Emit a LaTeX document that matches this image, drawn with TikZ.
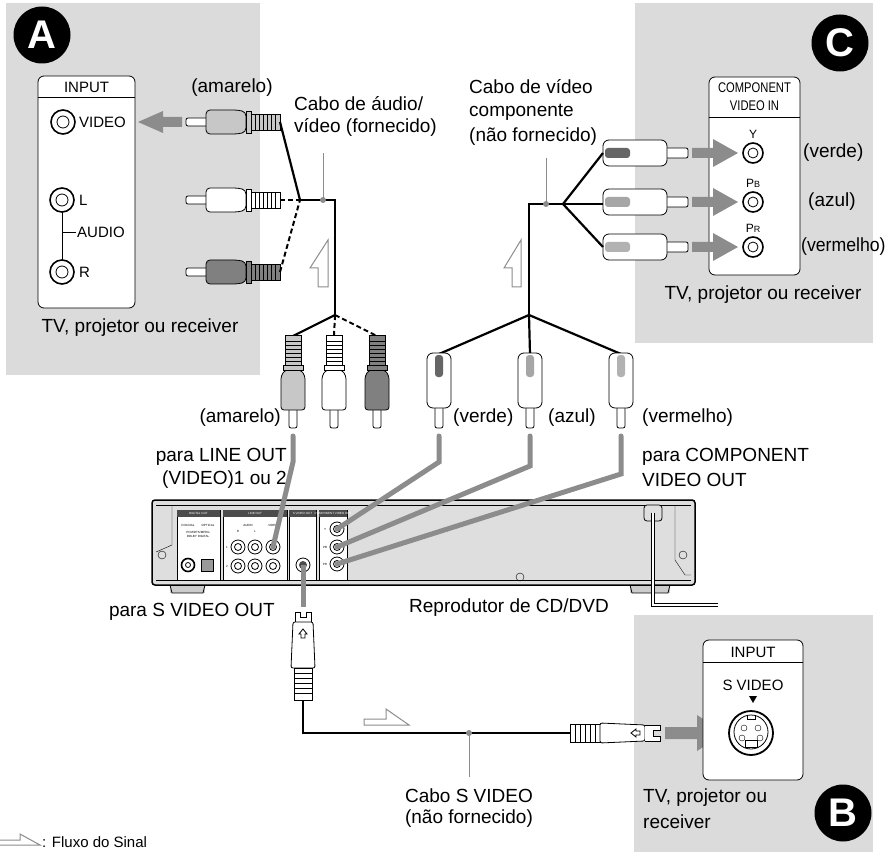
\documentclass[tikz,border=0pt]{standalone}
\usepackage{fontspec}
\setmainfont{Liberation Sans}
\begin{document}
\begin{tikzpicture}[x=1pt,y=-1pt,
  panel/.style={fill=black!14,draw=none},
  box/.style={draw,thick,fill=white,rounded corners=6pt},
  lbl/.style={font=\fontsize{19}{21}\selectfont,inner sep=0pt},
  small/.style={font=\fontsize{15}{16}\selectfont,inner sep=0pt},
  tiny/.style={font=\fontsize{3}{3}\selectfont,inner sep=0pt},
  cab/.style={line width=2.2pt,black},
  dcab/.style={line width=2pt,black,dash pattern=on 5pt off 3pt},
  gcab/.style={line width=5pt,black!45},
  garrow/.style={fill=black!45,draw=none},
  hollow/.style={draw=black!45,fill=white,line width=1pt},
  jack/.style={draw,line width=1.6pt,fill=white},
  badge/.style={circle,fill=black,text=white,minimum size=57pt,inner sep=0pt,font=\fontsize{40}{40}\selectfont\bfseries}]
\useasboundingbox (0,0) rectangle (892,853);
% ---------- panels
\fill[panel] (6,3) rectangle (260,375);
\fill[panel] (635,3) rectangle (873,343);
\fill[panel] (634,615) rectangle (873,852);
\node[badge] (bA) at (42,35) {A};
\node[badge] (bC) at (840,43) {C};
\node[badge] (bB) at (843,813) {B};
% ---------- macros
\newcommand{\rcaH}[3]{% pin tip at (#1,#2), plug extends to +x ; #3 colour
 \begin{scope}[shift={(#1,#2)}]
  \draw[thick,fill=white,rounded corners=2pt] (0,-4) rectangle (22,4);
  \draw[thick,fill=#3,rounded corners=4pt] (20,-12) -- (52,-12) -- (60,-10) -- (60,10) -- (52,12) -- (20,12) -- cycle;
  \draw[thick,fill=#3] (60,-11) rectangle (65,11);
  \draw[thick,fill=#3] (65,-8) rectangle (94,8);
  \foreach \k in {69,73,...,91} \draw (\k,-8) -- (\k,8);
 \end{scope}}
\newcommand{\rcaV}[3]{% pin tip at (#1,#2), plug extends upward
 \begin{scope}[shift={(#1,#2)},x={(0pt,1pt)},y={(1pt,0pt)}]
  \draw[thick,fill=white,rounded corners=2pt] (0,-4) rectangle (20,4);
  \draw[thick,fill=#3,rounded corners=3pt] (18,-12) -- (52,-12) -- (58,-8) -- (58,8) -- (52,12) -- (18,12) -- cycle;
  \draw[thick,fill=#3] (58,-10) rectangle (63,10);
  \draw[thick,fill=#3] (63,-8) rectangle (93,8);
  \foreach \k in {67,71,...,89} \draw (\k,-8) -- (\k,8);
 \end{scope}}
\newcommand{\rcaC}[4]{% component plug, pin tip at (#1,#2) on the right, body length #4 to the left
 \begin{scope}[shift={(#1,#2)},x={(-1pt,0pt)}]
  \draw[thick,fill=white,rounded corners=2pt] (0,-5) rectangle (23,5);
  \draw[thick,fill=white,rounded corners=6pt] (21,-13) rectangle (21+#4,13);
  \fill[#3,rounded corners=3pt] (21+#4-27,-5) rectangle (21+#4-2,5);
 \end{scope}}
\newcommand{\rcaCV}[4]{%
 \begin{scope}[shift={(#1,#2)},x={(0pt,1pt)},y={(1pt,0pt)}]
  \draw[thick,fill=white,rounded corners=2pt] (0,-4) rectangle (22,4);
  \draw[thick,fill=white,rounded corners=6pt] (20,-12) rectangle (20+#4,12);
  \fill[#3,rounded corners=3pt] (20+#4-24,-4) rectangle (20+#4-2,4);
 \end{scope}}
% ---------- panel A
\draw[box] (38,76) rectangle (135,308);
\draw[thick] (38,97) -- (135,97);
\node[small] (inA) at (86.5,87) {INPUT};
\node[jack,circle,minimum size=24pt] (jV) at (63,122) {};
\draw[thick] (63,122) circle (6);
\node[small,anchor=west] (tV) at (79,122) {VIDEO};
\draw[thick] (62,200) -- (62,272);
\draw[thick] (62,232) -- (76,232);
\node[jack,circle,minimum size=24pt] (jL) at (62,200) {};
\draw[thick] (62,200) circle (6);
\node[jack,circle,minimum size=24pt] (jR) at (62,272) {};
\draw[thick] (62,272) circle (6);
\node[small,anchor=west] (tL) at (79,200) {L};
\node[small,anchor=west] (tAu) at (77,232) {AUDIO};
\node[small,anchor=west] (tR) at (79,272) {R};
\node[lbl] (tvA) at (140,328) {TV, projetor ou receiver};
\fill[garrow] (182,117) -- (163,117) -- (163,111) -- (138,122) -- (163,133) -- (163,127) -- (182,127) -- cycle;
\rcaH{186}{122}{black!22}
\rcaH{186}{200}{white}
\rcaH{186}{272}{black!50}
\coordinate (jA) at (300,200);
\coordinate (jA2) at (335,200);
\coordinate (fA) at (335,315);
\draw[cab] (280,122) -- (jA);
\draw[dcab] (280,200) -- (jA);
\draw[dcab] (280,272) -- (jA);
\draw[cab] (jA) -- (jA2) -- (fA);
\fill[black!45] (323,200) circle (3);
\draw[black!45,line width=1pt] (323,200) -- (323,153);
\node[lbl] (amA) at (232,88) {(amarelo)};
\node[lbl,anchor=west] (cabA1) at (294,104) {Cabo de áudio/};
\node[lbl,anchor=west] (cabA2) at (294,127) {vídeo (fornecido)};
\draw[hollow] (318,287) -- (328,287) -- (328,240) -- (310,268) -- (318,268) -- cycle;
% bottom audio plugs
\draw[cab] (fA) -- (293,336);
\draw[dcab] (fA) -- (334,336);
\draw[dcab] (fA) -- (377,336);
\rcaV{293}{428}{black!22}
\rcaV{334}{428}{white}
\rcaV{377}{428}{black!50}
% ---------- panel C
\draw[box] (709,77) rectangle (800,275);
\draw[thick] (709,117) -- (800,117);
\node[font=\fontsize{14}{14}\selectfont,inner sep=0pt,xscale=0.8] (cvi1) at (754.5,88) {COMPONENT};
\node[font=\fontsize{14}{14}\selectfont,inner sep=0pt,xscale=0.8] (cvi2) at (754.5,106) {VIDEO IN};
\foreach \yy/\nm/\lab/\col in {153/Y/Y/(verde),202/B/P{\fontsize{9}{9}\selectfont B}/(azul),247/R/P{\fontsize{9}{9}\selectfont R}/(vermelho)}{
  \node[jack,circle,minimum size=20pt] (jc\nm) at (753,\yy) {};
  \draw[thick] (753,\yy) circle (5);
  \node[font=\fontsize{12}{12}\selectfont,inner sep=0pt] (lc\nm) at (753,\yy-19) {\lab};
  \fill[garrow] (692,\yy-5) -- (713,\yy-5) -- (713,\yy-14) -- (738,\yy) -- (713,\yy+14) -- (713,\yy+5) -- (692,\yy+5) -- cycle;
}
\node[lbl,anchor=west] (ccY) at (803,153) {(verde)};
\node[lbl,anchor=west] (ccB) at (808,202) {(azul)};
\node[lbl,anchor=west,xscale=0.93] (ccR) at (801,247) {(vermelho)};
\node[lbl] (tvC) at (763,295) {TV, projetor ou receiver};
\rcaC{688}{153}{black!60}{64}
\rcaC{688}{202}{black!35}{64}
\rcaC{688}{247}{black!30}{64}
\coordinate (jC) at (563,204);
\coordinate (jC2) at (529,204);
\coordinate (fC) at (529,315);
\draw[cab] (603,153) -- (jC) -- (603,247);
\draw[cab] (603,204) -- (jC) -- (jC2) -- (fC);
\fill[black!45] (546,204) circle (3);
\draw[black!45,line width=1pt] (546,204) -- (546,158);
\node[lbl,anchor=west] (cabC1) at (469,87) {Cabo de vídeo};
\node[lbl,anchor=west] (cabC2) at (469,112) {componente};
\node[lbl,anchor=west] (cabC3) at (469,137) {(não fornecido)};
\draw[hollow] (512,287) -- (521,287) -- (521,240) -- (504,268) -- (512,268) -- cycle;
\draw[cab] (fC) -- (439,354);
\draw[cab] (fC) -- (530,354);
\draw[cab] (fC) -- (621,354);
\rcaCV{439}{428}{black!60}{55}
\rcaCV{530}{428}{black!35}{55}
\rcaCV{621}{428}{black!30}{55}
% labels under plugs
\node[lbl,anchor=east] (am2) at (281,418) {(amarelo)};
\node[lbl,anchor=west] (ve2) at (453,418) {(verde)};
\node[lbl,anchor=west] (az2) at (548,418) {(azul)};
\node[lbl,anchor=west] (vm2) at (642,418) {(vermelho)};
\node[lbl,anchor=east] (lo1) at (287,457) {para LINE OUT};
\node[lbl,anchor=east] (lo2) at (287,480) {(VIDEO)1 ou 2};
\node[lbl,anchor=west] (co1) at (642,457) {para  COMPONENT};
\node[lbl,anchor=west] (co2) at (642,480) {VIDEO OUT};
% ---------- player
\fill[black!20] (170,585) rectangle (205,593);
\fill[black!20] (630,585) rectangle (670,593);
\draw[thick] (170,585) -- (172,593) -- (203,593) -- (205,585);
\draw[thick] (630,585) -- (632,593) -- (668,593) -- (670,585);
\draw[line width=1.5pt,fill=black!13,rounded corners=3pt] (152,500) rectangle (695,585);
\draw[thick] (156,505) -- (691,505);
\draw[thick] (156,580) -- (691,580);
\draw (172,505) -- (172,545) -- (156,552);
\draw (162,555) circle (4);
\draw (675,505) -- (675,560) -- (685,575) -- (691,575);
\draw (683,555) circle (4);
\draw (520,577) circle (4);
% sub panels
\foreach \xa/\xb/\tt in {177/220/DIGITAL OUT,223/287/LINE OUT,289/316/S VIDEO OUT,319/347/COMPONENT VIDEO OUT}{
  \draw[fill=white] (\xa,510) rectangle (\xb,580);
  \fill[black!70] (\xa,510) rectangle (\xb,517);
  \node[tiny,text=white] at ({(\xa+\xb)/2},513.5) {\tt};
}
\node[tiny] at (188,525) {COAXIAL};
\node[tiny] at (208,525) {OPTICAL};
\node[tiny] at (198,532) {PCM/DTS/MPEG};
\node[tiny] at (198,536) {DOLBY DIGITAL};
\node[jack,circle,minimum size=13pt] (coax) at (188,565) {};
\draw[thick] (188,565) circle (2.5);
\draw[thick,fill=black!40] (201,559) rectangle (213,571);
\node[tiny] at (248,525) {AUDIO};
\node[tiny] at (238,531) {R};
\node[tiny] at (255,531) {L};
\node[tiny] at (273,525) {VIDEO};
\node[tiny] at (227,547) {1};
\node[tiny] at (227,566) {2};
\foreach \xx in {238,255,273}{\foreach \yy in {547,566}{
  \draw[thick,fill=white] (\xx,\yy) circle (7);
  \draw[thick] (\xx,\yy) circle (3.5);}}
\draw[thick,fill=white] (303,565) circle (7);
\fill[black!70] (303,565) circle (4);
\foreach \yy/\tt in {529/Y,547/PB,564/PR}{
  \draw[thick,fill=white] (337,\yy) circle (7);
  \draw[thick] (337,\yy) circle (3.5);
  \node[tiny] at (325,\yy) {\tt};}
% power cord
\draw[thick,rounded corners=3pt,fill=black!13] (644,505) rectangle (662,521);
\draw[thick,double=white,double distance=2pt] (653,513) -- (653,605) -- (718,605);
% gray cables to player
\draw[gcab,line cap=round] (293,436) -- (293,462) -- (273,547);
\draw[gcab,line cap=round] (439,436) -- (439,462) -- (337,529);
\draw[gcab,line cap=round] (530,436) -- (530,466) -- (337,547);
\draw[gcab,line cap=round] (621,436) -- (621,474) -- (337,564);
\draw[gcab] (303,565) -- (303,607);
\node[lbl,anchor=west] (rep) at (409,608) {Reprodutor de CD/DVD};
\node[lbl,anchor=east] (svo) at (275,612) {para S VIDEO OUT};
% ---------- S video cable
\draw[thick,fill=white] (295,622) -- (295,612) -- (300,612) -- (300,617) -- (306,617) -- (306,612) -- (311,612) -- (311,622);
\draw[thick,fill=white,rounded corners=2pt] (293,622) -- (313,622) -- (315,668) -- (291,668) -- cycle;
\draw[thick,fill=white] (303,629) -- (299,634) -- (301,634) -- (301,638) -- (305,638) -- (305,634) -- (307,634) -- cycle;
\draw[thick,fill=white] (294,668) rectangle (312,700);
\foreach \k in {673,678,...,695} \draw[thick] (294,\k) -- (312,\k);
\draw[cab] (303,700) -- (303,733) -- (570,733);
\fill[black!45] (469,733) circle (3);
\draw[black!45,line width=1pt] (469,733) -- (469,777);
\node[lbl] (cabS1) at (469,796) {Cabo S VIDEO};
\node[lbl] (cabS2) at (469,819) {(não fornecido)};
\draw[hollow] (364,725) -- (409,725) -- (386,709) -- (386,719) -- (364,719) -- cycle;
% horizontal S plug
\draw[thick,fill=white] (570,724) rectangle (600,742);
\foreach \k in {575,580,...,596} \draw[thick] (\k,724) -- (\k,742);
\draw[thick,fill=white,rounded corners=2pt] (600,723) -- (645,725) -- (645,741) -- (600,743) -- cycle;
\draw[thick,fill=white] (631,733) -- (636,729) -- (636,731) -- (640,731) -- (640,735) -- (636,735) -- (636,737) -- cycle;
\draw[thick,fill=white] (645,725) -- (660,725) -- (660,730) -- (653,730) -- (653,736) -- (660,736) -- (660,741) -- (645,741);
\fill[garrow] (665,727) -- (697,727) -- (697,715) -- (725,733) -- (697,751) -- (697,739) -- (665,739) -- cycle;
% ---------- panel B
\draw[box] (703,640) rectangle (803,780);
\draw[thick] (703,662) -- (803,662);
\node[small] (inB) at (753,652) {INPUT};
\node[small] (svB) at (753,685) {S VIDEO};
\fill (749,696) -- (757,696) -- (753,703) -- cycle;
\draw[line width=1.8pt,fill=white] (751,733) circle (22);
\draw[thick] (751,732) circle (17);
\foreach \dx/\dy in {-7/-4,7/-4,-9/6,9/6} \draw (751+\dx,732+\dy) circle (3);
\draw (745,740) rectangle (757,747);
\draw[thick] (747,715) -- (747,719) -- (755,719) -- (755,715);
\node[lbl,anchor=west] (tvB1) at (643,798) {TV, projetor ou};
\node[lbl,anchor=west] (tvB2) at (643,822) {receiver};
% ---------- legend
\draw[hollow] (0,845) -- (40,845) -- (20,834) -- (20,840) -- (0,840);
\node[font=\fontsize{15}{15}\selectfont,inner sep=0pt,anchor=west] (leg) at (42,842) {: Fluxo do Sinal};
\end{tikzpicture}
\end{document}
